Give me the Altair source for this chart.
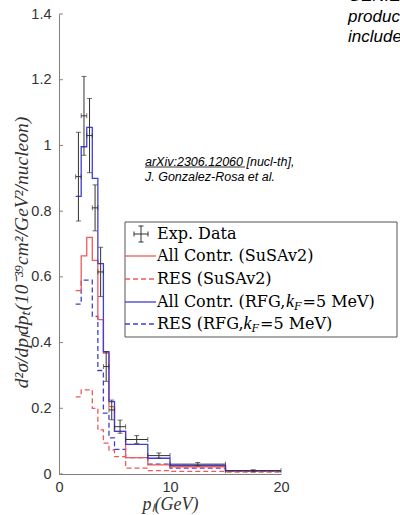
import altair as alt
import pandas as pd

# ---------------- data ----------------
edges = [1.5, 2, 2.5, 3, 3.5, 4, 4.5, 5, 6, 8, 10, 15, 20]
data_val = [0.905, 1.09, 1.03, 0.81, 0.615, 0.327, 0.195, 0.144, 0.105, 0.056, 0.030, 0.010]
data_err = [0.135, 0.12, 0.113, 0.07, 0.075, 0.045, 0.030, 0.020, 0.012, 0.008, 0.005, 0.003]

red_all = [0.558, 0.664, 0.72, 0.65, 0.47, 0.368, 0.205, 0.13, 0.05, 0.028, 0.022, 0.009]
red_res = [0.235, 0.256, 0.256, 0.20, 0.134, 0.094, 0.073, 0.053, 0.018, 0.010, 0.008, 0.006]
blue_all = [0.845, 0.996, 1.055, 0.90, 0.64, 0.372, 0.22, 0.13, 0.09, 0.048, 0.026, 0.010]
blue_res = [0.517, 0.59, 0.59, 0.48, 0.315, 0.185, 0.11, 0.075, 0.05, 0.030, 0.018, 0.008]

y_ticks = [0, 0.2, 0.4, 0.6, 0.8, 1.0, 1.2, 1.4]
x_ticks = [0, 10, 20]

RED = "#f05a5a"
BLUE = "#3f3fd8"
GRAY = "#7f7f7f"
DARK = "#333333"
SERIF = "DejaVu Serif"
MATH = "Liberation Serif"
SANS = "Liberation Sans"
LFS = 16  # legend font size

xs = alt.Scale(domain=[0, 20], nice=False)
ys = alt.Scale(domain=[0, 1.4], nice=False)

# ---------------- tables ----------------
def step_df(vals):
    return pd.DataFrame({"x": edges, "y": list(vals) + [vals[-1]]})

lo = edges[:-1]
hi = edges[1:]
exp = pd.DataFrame({
    "xc": [(a + b) / 2 for a, b in zip(lo, hi)],
    "xlo": lo, "xhi": hi,
    "y": data_val,
    "ylo": [v - e for v, e in zip(data_val, data_err)],
    "yhi": [v + e for v, e in zip(data_val, data_err)],
})


def step_line(vals, color, dash=None):
    kw = dict(interpolate="step-after", color=color, strokeWidth=1.3)
    if dash:
        kw["strokeDash"] = dash
    return alt.Chart(step_df(vals)).mark_line(**kw).encode(
        x=alt.X("x:Q", scale=xs,
                axis=alt.Axis(values=x_ticks, title="pₗ(GeV)", grid=False, ticks=False,
                              labelFlush=False,
                              domainColor=GRAY, labelColor=DARK, labelFont=SANS,
                              labelFontSize=14.5, labelPadding=6, titleFont=MATH,
                              titleFontStyle="italic", titleFontWeight="normal",
                              titleFontSize=18, titleColor=DARK,
                              titleX=111, titleY=30, titleBaseline="middle", titleAlign="center")),
        y=alt.Y("y:Q", scale=ys,
                axis=alt.Axis(values=y_ticks, format="~g", grid=False, ticks=False,
                              labelFlush=False,
                              title="d²σ/dpₗdpₜ(10⁻³⁹cm²/GeV²/nucleon)",
                              domainColor=GRAY, labelColor=DARK, labelFont=SANS,
                              labelFontSize=14.5, labelPadding=8, titleFont=MATH,
                              titleFontStyle="italic", titleFontWeight="normal",
                              titleFontSize=19.5, titleColor=DARK,
                              titleX=-38, titleY=238, titleBaseline="middle", titleAlign="center")),
    )


lines = [
    step_line(red_res, RED, [5, 3]),
    step_line(blue_res, BLUE, [5, 3]),
    step_line(red_all, RED),
    step_line(blue_all, BLUE),
]

# y ticks drawn inside
tick_df = pd.DataFrame({"y": y_ticks, "x0": [0] * len(y_ticks), "x1": [0.35] * len(y_ticks)})
yt = alt.Chart(tick_df).mark_rule(color=GRAY, strokeWidth=1).encode(
    x=alt.X("x0:Q", scale=xs), x2="x1:Q", y=alt.Y("y:Q", scale=ys))

base = alt.Chart(exp)
vbar = base.mark_rule(color=DARK, strokeWidth=1).encode(
    x=alt.X("xc:Q", scale=xs), y=alt.Y("ylo:Q", scale=ys), y2="yhi:Q")
hbar = base.mark_rule(color=DARK, strokeWidth=1).encode(
    x=alt.X("xlo:Q", scale=xs), x2="xhi:Q", y=alt.Y("y:Q", scale=ys))
cap_t = base.mark_tick(color=DARK, size=5, thickness=1, orient="horizontal").encode(
    x=alt.X("xc:Q", scale=xs), y=alt.Y("yhi:Q", scale=ys))
cap_b = base.mark_tick(color=DARK, size=5, thickness=1, orient="horizontal").encode(
    x=alt.X("xc:Q", scale=xs), y=alt.Y("ylo:Q", scale=ys))
cap_l = base.mark_tick(color=DARK, size=5, thickness=1, orient="vertical").encode(
    x=alt.X("xlo:Q", scale=xs), y=alt.Y("y:Q", scale=ys))
cap_r = base.mark_tick(color=DARK, size=5, thickness=1, orient="vertical").encode(
    x=alt.X("xhi:Q", scale=xs), y=alt.Y("y:Q", scale=ys))

# ---------------- legend & annotations (pixel placed) ----------------
one = alt.Chart(pd.DataFrame({"a": [0]}))

leg_box = one.mark_rect(fill="white", stroke="#555555", strokeWidth=1).encode(
    x=alt.value(66), x2=alt.value(338), y=alt.value(208), y2=alt.value(323))

rows_y = [220, 242, 265, 288, 310]
leg_items = []
# errorbar symbol
ex = 82
ey = rows_y[0]
leg_items += [
    one.mark_rule(color=DARK).encode(x=alt.value(ex - 7), x2=alt.value(ex + 7), y=alt.value(ey)),
    one.mark_rule(color=DARK).encode(x=alt.value(ex), y=alt.value(ey - 8), y2=alt.value(ey + 8)),
    one.mark_rule(color=DARK).encode(x=alt.value(ex - 2.5), x2=alt.value(ex + 2.5), y=alt.value(ey - 8)),
    one.mark_rule(color=DARK).encode(x=alt.value(ex - 2.5), x2=alt.value(ex + 2.5), y=alt.value(ey + 8)),
    one.mark_rule(color=DARK).encode(x=alt.value(ex - 7), y=alt.value(ey - 2.5), y2=alt.value(ey + 2.5)),
    one.mark_rule(color=DARK).encode(x=alt.value(ex + 7), y=alt.value(ey - 2.5), y2=alt.value(ey + 2.5)),
]
sym = [(RED, None), (RED, [5, 3]), (BLUE, None), (BLUE, [5, 3])]
for (c, d), ry in zip(sym, rows_y[1:]):
    kw = dict(color=c, strokeWidth=1.3)
    if d:
        kw["strokeDash"] = d
    leg_items.append(one.mark_rule(**kw).encode(x=alt.value(66), x2=alt.value(97), y=alt.value(ry)))

labels = ["Exp. Data", "All Contr. (SuSAv2)", "RES (SuSAv2)"]
for t, ry in zip(labels, rows_y[:3]):
    leg_items.append(one.mark_text(text=t, align="left", baseline="middle", font=SERIF,
                                   fontSize=LFS, color="black").encode(x=alt.value(98), y=alt.value(ry)))

# rows with k_F
for pre, ry, kx in [("All Contr. (RFG,", rows_y[3], 226.5), ("RES (RFG,", rows_y[4], 184)]:
    leg_items.append(one.mark_text(text=pre, align="left", baseline="middle", font=SERIF,
                                   fontSize=LFS, color="black").encode(x=alt.value(98), y=alt.value(ry)))
    leg_items.append(one.mark_text(text="k", align="left", baseline="middle", font=MATH,
                                   fontStyle="italic", fontSize=18, color="black").encode(
        x=alt.value(kx + 0.5), y=alt.value(ry)))
    leg_items.append(one.mark_text(text="F", align="left", baseline="middle", font=MATH,
                                   fontStyle="italic", fontSize=12.5, color="black").encode(
        x=alt.value(kx + 8.5), y=alt.value(ry + 4)))
    leg_items.append(one.mark_text(text="=5 MeV)", align="left", baseline="middle", font=SERIF,
                                   fontSize=LFS, color="black").encode(
        x=alt.value(kx + 17), y=alt.value(ry)))

ann = [
    one.mark_text(text="arXiv:2306.12060 [nucl-th],", align="left", baseline="middle", font=SANS,
                  fontStyle="italic", fontSize=12.5, color="black").encode(x=alt.value(86), y=alt.value(147.5)),
    one.mark_rule(color="black", strokeWidth=0.8).encode(x=alt.value(86), x2=alt.value(186), y=alt.value(153)),
    one.mark_text(text="J. Gonzalez-Rosa et al.", align="left", baseline="middle", font=SANS,
                  fontStyle="italic", fontSize=12.5, color="black").encode(x=alt.value(86), y=alt.value(163)),
]
top_txt = []
for t, ty in [("GENIE v3 prediction", -13.5), ("production", 7.5), ("included", 27.5)]:
    top_txt.append(one.mark_text(text=t, align="left", baseline="alphabetic", font=SANS,
                                 fontStyle="italic", fontSize=17, color="black").encode(
        x=alt.value(289), y=alt.value(ty)))

chart = alt.layer(
    *lines, yt, hbar, vbar, cap_t, cap_b, cap_l, cap_r,
    leg_box, *leg_items, *ann, *top_txt
).properties(
    width=222, height=460,
    autosize=alt.AutoSizeParams(type="none"),
    padding={"left": 59, "top": 14, "right": 119, "bottom": 41},
    background="white",
).configure_view(stroke=None)

chart.save("out.html", embed_options={"renderer": "svg", "actions": False})
